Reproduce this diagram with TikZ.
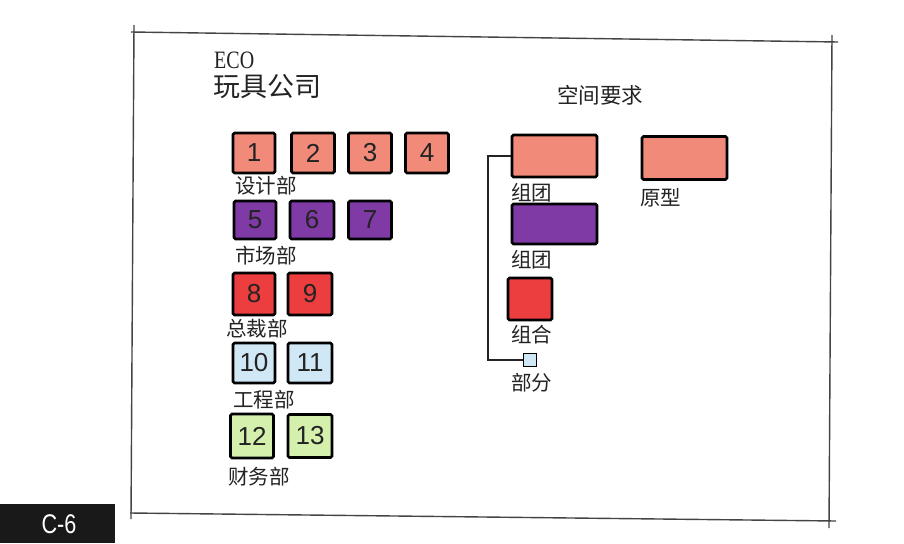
\documentclass[tikz,border=0pt]{standalone}
\usepackage{fontspec}
\setmainfont{Liberation Serif}
\setsansfont{Liberation Sans}
\newfontfamily\cjk{Noto Sans CJK SC}
\definecolor{salmon}{RGB}{242,138,122}
\definecolor{violet}{RGB}{128,58,165}
\definecolor{redbox}{RGB}{236,62,62}
\definecolor{lblue}{RGB}{208,232,246}
\definecolor{lgreen}{RGB}{212,240,172}
\definecolor{ink}{RGB}{35,35,35}
\tikzset{
  dbox/.style={draw=black, line width=2.6pt, rounded corners=1.5pt, inner sep=0pt,
    minimum width=42pt, minimum height=40pt, font=\sffamily\fontsize{26}{26}\selectfont, text=ink},
  lbl/.style={anchor=west, inner sep=0pt, text=ink, font=\cjk\fontsize{20.5}{20.5}\selectfont},
  frameline/.style={draw=ink!85, line width=1.4pt},
  conn/.style={draw=ink, line width=1.2pt}
}
\begin{document}
\begin{tikzpicture}[x=1pt,y=-1pt]
\useasboundingbox (0,0) rectangle (904,543);
\fill[white] (0,0) rectangle (904,543);
% frame
\draw[frameline] (131,32) -- (838,42);
\draw[frameline] (134,25) -- (131,519);
\draw[frameline] (130,513) -- (836,521);
\draw[frameline] (832,35) -- (829,528);
% C-6 tab
\fill[black!90] (0,504) rectangle (115,543);
\node[text=white, font=\sffamily\fontsize{27}{27}\selectfont, inner sep=0pt] (tab) at (59,524) {\scalebox{0.8}[1]{C-6}};
% title
\node[anchor=west, inner sep=0pt, text=ink, font=\rmfamily\fontsize{25}{25}\selectfont] (eco) at (214,60) {\scalebox{0.8}[1]{ECO}};
\node[anchor=west, inner sep=0pt, text=ink, font=\cjk\fontsize{27}{27}\selectfont] (title) at (213,87) {玩具公司};
\node[anchor=west, inner sep=0pt, text=ink, font=\cjk\fontsize{21.5}{21.5}\selectfont] (req) at (557,95) {空间要求};
% departments
\node[dbox, fill=salmon] (b1) at (254,153) {1};
\node[dbox, fill=salmon, minimum width=43pt] (b2) at (313,153) {2};
\node[dbox, fill=salmon, minimum width=43pt] (b3) at (370,153) {3};
\node[dbox, fill=salmon, minimum width=43pt] (b4) at (427,153) {4};
\node[lbl] (l1) at (235,186) {设计部};
\node[dbox, fill=violet, minimum height=38pt] (b5) at (255,220) {5};
\node[dbox, fill=violet, minimum width=44pt, minimum height=38pt] (b6) at (312,220) {6};
\node[dbox, fill=violet, minimum width=43pt, minimum height=38pt] (b7) at (370,220) {7};
\node[lbl] (l2) at (235,256) {市场部};
\node[dbox, fill=redbox, minimum height=42pt] (b8) at (254,294) {8};
\node[dbox, fill=redbox, minimum width=44pt, minimum height=42pt] (b9) at (310,294) {9};
\node[lbl] (l3) at (226,329) {总裁部};
\node[dbox, fill=lblue] (b10) at (254,363) {10};
\node[dbox, fill=lblue, minimum width=44pt] (b11) at (310,363) {11};
\node[lbl] (l4) at (233,400) {工程部};
\node[dbox, fill=lgreen, minimum width=43pt, minimum height=44pt] (b12) at (252,436) {12};
\node[dbox, fill=lgreen, minimum width=44pt, minimum height=43pt] (b13) at (310,436) {13};
\node[lbl] (l5) at (228,477) {财务部};
% legend
\node[dbox, fill=salmon, minimum width=85pt, minimum height=42pt] (g1) at (554.5,156) {};
\node[lbl] (lg1) at (511,193) {组团};
\node[dbox, fill=salmon, minimum width=85pt, minimum height=43pt] (proto) at (684.5,158) {};
\node[lbl] (lp) at (640,198) {原型};
\node[dbox, fill=violet, minimum width=85pt, minimum height=40pt] (g2) at (554.5,224) {};
\node[lbl] (lg2) at (511,260) {组团};
\node[dbox, fill=redbox, minimum width=44pt, minimum height=42pt] (combo) at (530,299) {};
\node[lbl] (lc) at (511,335) {组合};
\node[draw=black, line width=1.8pt, fill=lblue, minimum size=13pt, inner sep=0pt] (part) at (530,360) {};
\node[lbl] (lpa) at (511,383) {部分};
\coordinate (cx) at (488,0);
\draw[conn] (g1.west) -- (g1.west -| cx) |- (part.west);
\end{tikzpicture}
\end{document}
